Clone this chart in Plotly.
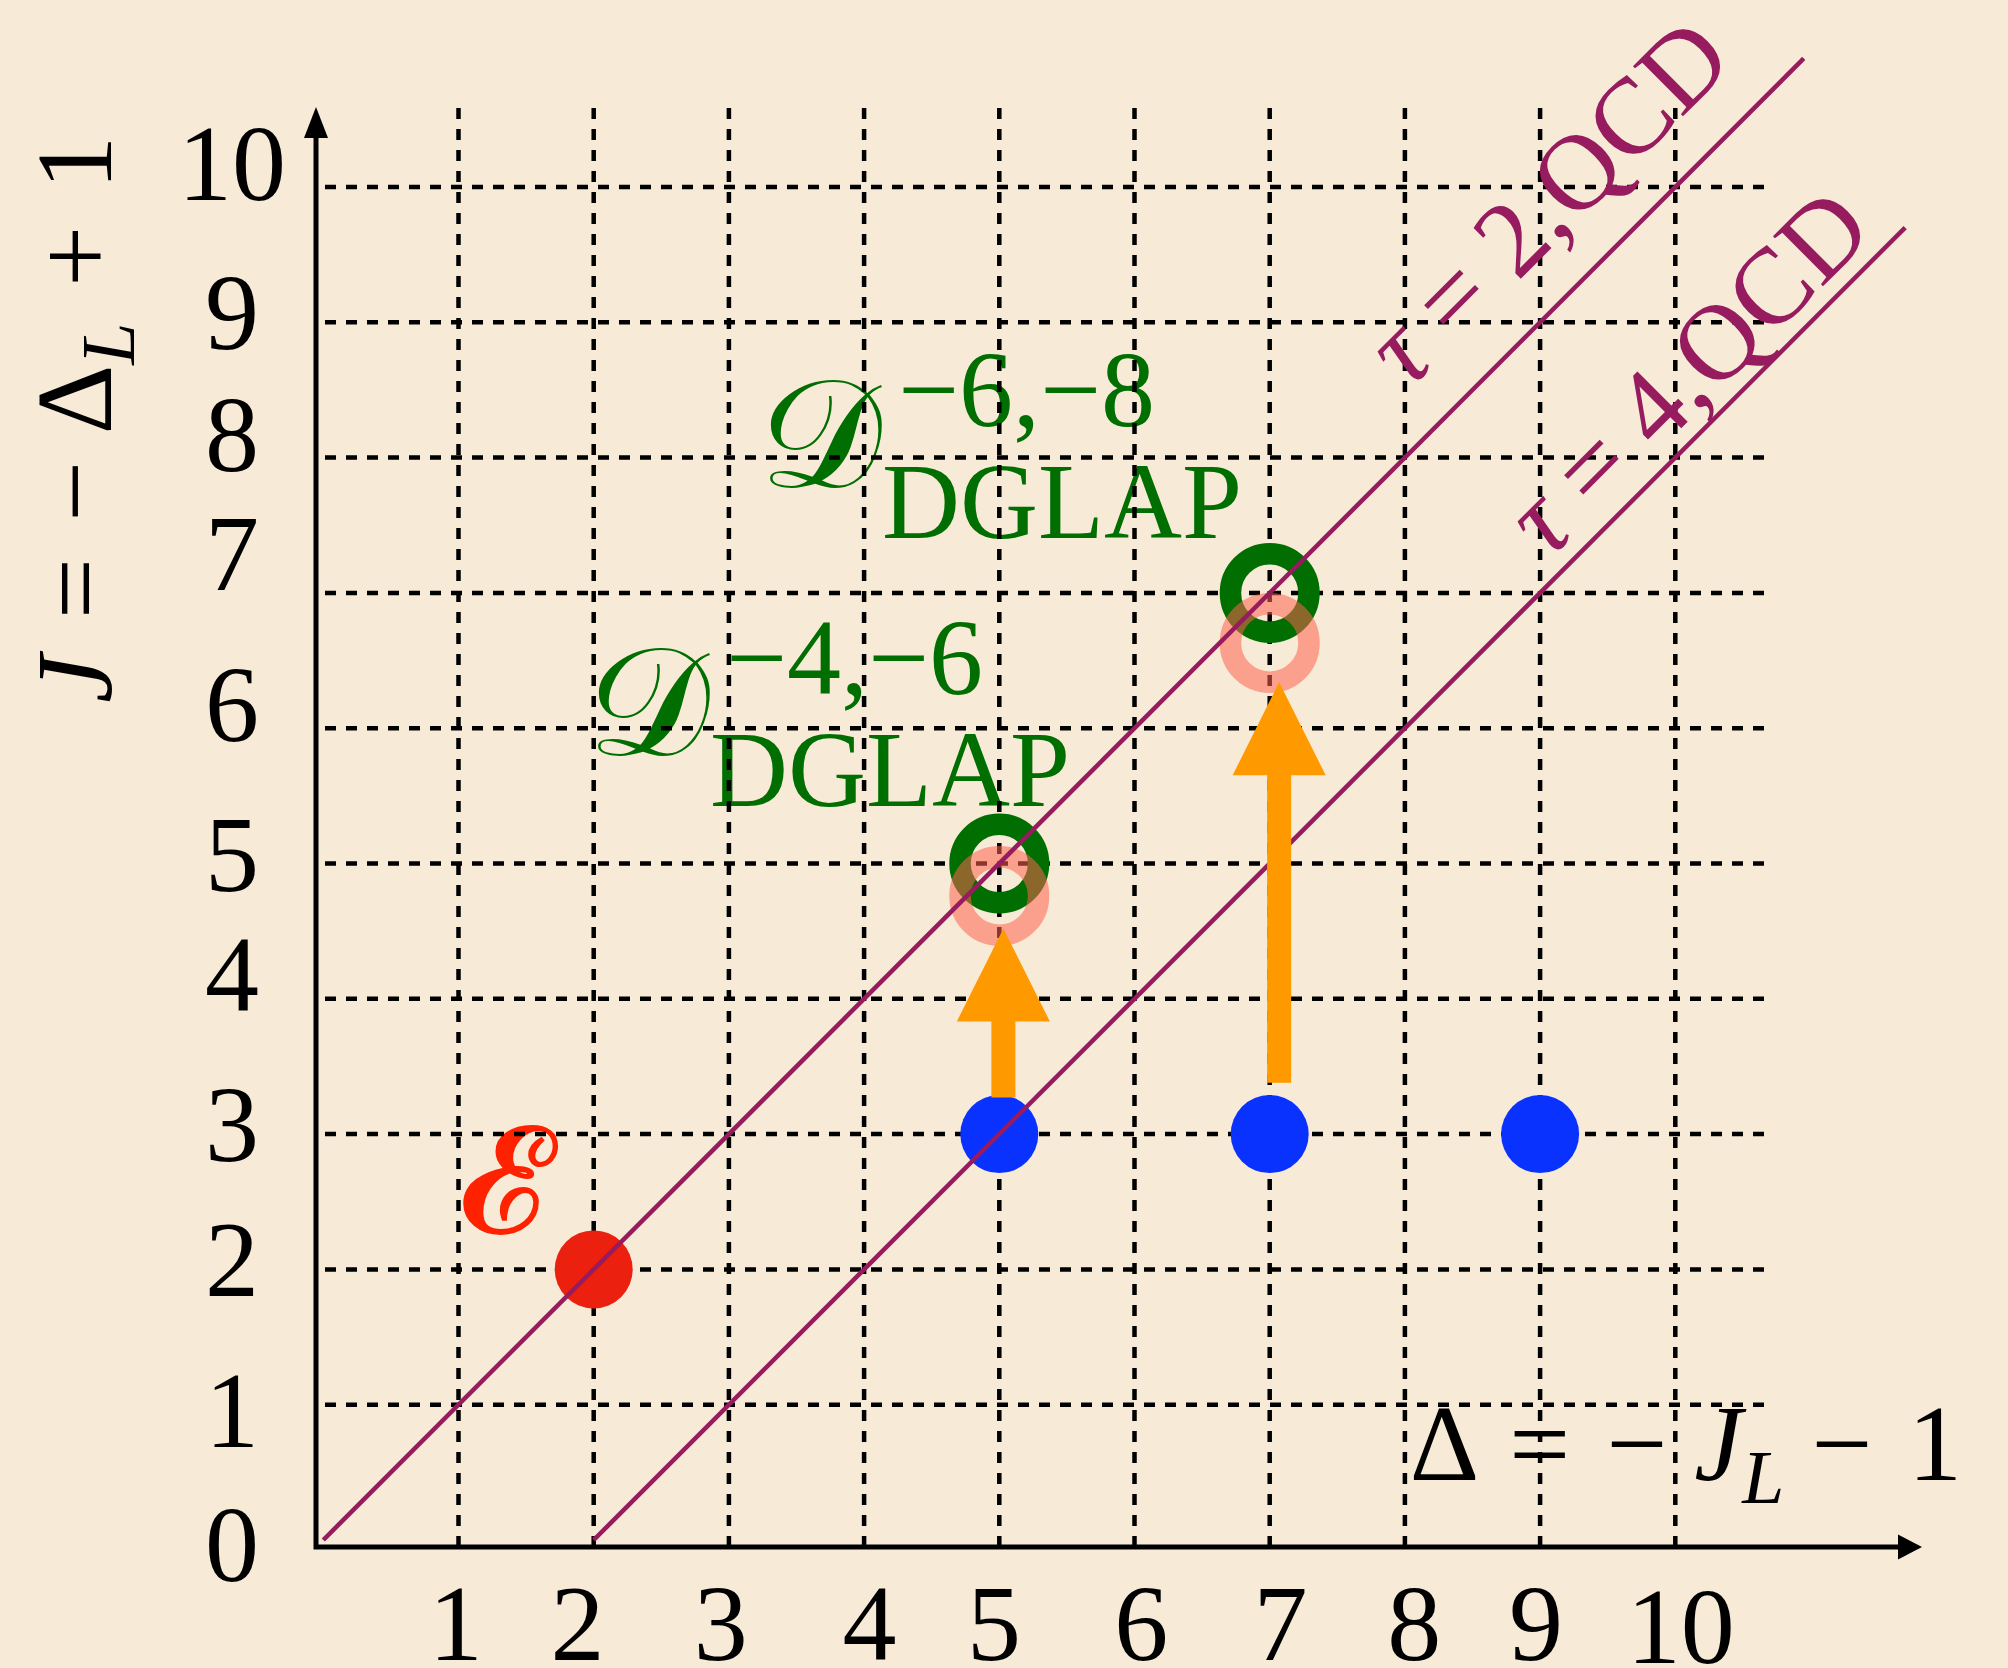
import plotly.graph_objects as go

# ---------------- data ----------------
x_ticks = [1, 2, 3, 4, 5, 6, 7, 8, 9, 10]
x_tick_labels = ["1", "2", "3", "4", "5", "6", "7", "8", "9", "10"]
y_ticks = [0, 1, 2, 3, 4, 5, 6, 7, 8, 9, 10]
y_tick_labels = ["0", "1", "2", "3", "4", "5", "6", "7", "8", "9", "10"]

grid_x = [1, 2, 3, 4, 5, 6, 7, 8, 9, 10]
grid_y = [1, 2, 3, 4, 5, 6, 7, 8, 9, 10]

tau2_x = [0, 10.95]
tau2_y = [0, 10.95]
tau4_x = [2, 11.7]
tau4_y = [0, 9.7]
tau_labels = ["<i>τ</i> = 2,QCD", "<i>τ</i> = 4,QCD"]

e_x = [2]
e_y = [2]
blue_x = [5, 7, 9]
blue_y = [3, 3, 3]
green_x = [5, 7]
green_y = [5, 7]
salmon_x = [5, 7]
salmon_y = [4.76, 6.63]
arrow_x = [5.03, 7.07]
arrow_from = [3.27, 3.38]
arrow_to = [4.52, 6.34]

green_sup = ["−6,−8", "−4,−6"]
green_sub = ["DGLAP", "DGLAP"]

# ---------------- pixel calibration / styles ----------------
W, H = 2008, 1668
PX_X0, PX_Y0, UX, UY = 323.3, 1540.0, 135.2, 135.3


def dx(px):
    return (px - PX_X0) / UX


def dy(py):
    return (PX_Y0 - py) / UY


BG = "#F7EAD7"
PURPLE = "#961B5F"
GREEN = "#006E00"
SALMON = "rgba(253,99,80,0.55)"
RED = "#EC200E"
BLUE = "#0A32FF"
ORANGE = "#FF9900"
SCRIPT_RED = "#FF2200"
FONT = "'Liberation Serif', 'Times New Roman', Times, serif"
SCRIPT_FONT = "'DejaVu Serif', 'DejaVu Sans', serif"
FS = 108
HS = " \u200a"  # a slightly wider gap, as in the reference formulas

fig = go.Figure()


def text_trace(xs, ys, texts, color="black", size=FS, family=FONT):
    fig.add_trace(go.Scatter(
        x=xs, y=ys, text=texts, mode="text", textposition="middle center",
        textfont=dict(family=family, size=size, color=color),
        hoverinfo="skip", showlegend=False, cliponaxis=False))


# --- text that sits below the grid ---
x_nudge = [-0.02, -0.12, -0.06, 0.04, -0.04, 0.05, 0.08, 0.07, -0.03, 0.04]
x_lab_y = [dy(1633)] * 9 + [dy(1636)]
text_trace([v + n for v, n in zip(x_ticks, x_nudge)], x_lab_y, x_tick_labels)

y_nudge = [-0.10, -0.11, 0.0, 0.0, 0.11, 0.0, 0.108, 0.22, 0.10, 0.0, 0.10]
text_trace([dx(232)] * len(y_ticks), [v + n for v, n in zip(y_ticks, y_nudge)], y_tick_labels)

text_trace([dx(1686)], [dy(1453)],
           ["Δ" + HS + "=" + HS + "− <i>J</i><sub><i>L</i></sub> −" + HS + "1"])

# green labels: script D, superscript line, subscript line
text_trace([dx(820), dx(648)], [dy(448), dy(716)], ["𝒟", "𝒟"], color=GREEN, size=154,
           family=SCRIPT_FONT)
text_trace([dx(1026.5), dx(854.5)], [dy(399), dy(667)], green_sup, color=GREEN)
text_trace([dx(1062), dx(890)], [dy(511), dy(779)], green_sub, color=GREEN)

# script E
text_trace([dx(501)], [dy(1194)], ["𝓔"], color=SCRIPT_RED, size=150, family=SCRIPT_FONT)

# --- dashed grid ---
gx0, gx1 = dx(325), dx(1765)
gy0, gy1 = dy(1547), dy(107)
hx, hy = [], []
for v in grid_y:
    hx += [gx0, gx1, None]
    hy += [v, v, None]
vx, vy = [], []
for v in grid_x:
    vx += [v, v, None]
    vy += [gy0, gy1, None]
fig.add_trace(go.Scatter(x=hx + vx, y=hy + vy, mode="lines",
                         line=dict(color="black", width=4.5, dash="11px,10px"),
                         hoverinfo="skip", showlegend=False))

# --- axes with arrow heads ---
AX, AY = dx(316), dy(1547)
y_tip, x_tip = dy(107), dx(1922)
yh_len, yh_w = 31 / UY, 12 / UX
xh_len, xh_w = 24 / UX, 12.5 / UY
fig.add_trace(go.Scatter(x=[AX, AX, x_tip - xh_len], y=[y_tip - yh_len, AY, AY], mode="lines",
                         line=dict(color="black", width=5), hoverinfo="skip", showlegend=False))
fig.add_trace(go.Scatter(x=[AX - yh_w, AX + yh_w, AX, AX - yh_w],
                         y=[y_tip - yh_len, y_tip - yh_len, y_tip, y_tip - yh_len],
                         mode="lines", fill="toself", fillcolor="black", line=dict(width=0),
                         hoverinfo="skip", showlegend=False))
fig.add_trace(go.Scatter(x=[x_tip - xh_len, x_tip - xh_len, x_tip, x_tip - xh_len],
                         y=[AY - xh_w, AY + xh_w, AY, AY - xh_w],
                         mode="lines", fill="toself", fillcolor="black", line=dict(width=0),
                         hoverinfo="skip", showlegend=False))

# --- rings and dots ---
fig.add_trace(go.Scatter(x=green_x, y=green_y, mode="markers",
                         marker=dict(symbol="circle-open", size=78.5, color=GREEN,
                                     line=dict(width=21.5, color=GREEN)),
                         hoverinfo="skip", showlegend=False))
fig.add_trace(go.Scatter(x=salmon_x, y=salmon_y, mode="markers",
                         marker=dict(symbol="circle-open", size=78.5, color=SALMON,
                                     line=dict(width=21.5, color=SALMON)),
                         hoverinfo="skip", showlegend=False))
fig.add_trace(go.Scatter(x=e_x, y=e_y, mode="markers",
                         marker=dict(size=78, color=RED, line=dict(width=0)),
                         hoverinfo="skip", showlegend=False))
fig.add_trace(go.Scatter(x=blue_x, y=blue_y, mode="markers",
                         marker=dict(size=78, color=BLUE, line=dict(width=0)),
                         hoverinfo="skip", showlegend=False))

# --- tau lines ---
for lx, ly in [(tau2_x, tau2_y), (tau4_x, tau4_y)]:
    fig.add_trace(go.Scatter(x=lx, y=ly, mode="lines", line=dict(color=PURPLE, width=4.5),
                             hoverinfo="skip", showlegend=False))

# --- orange arrows ---
head_len = 93 / UY
head_hw = 46.5 / UX
for xa, y0, y1 in zip(arrow_x, arrow_from, arrow_to):
    base = y1 - head_len
    fig.add_trace(go.Scatter(x=[xa, xa], y=[y0, base + 0.02], mode="lines",
                             line=dict(color=ORANGE, width=24),
                             hoverinfo="skip", showlegend=False))
    fig.add_trace(go.Scatter(x=[xa - head_hw, xa + head_hw, xa, xa - head_hw],
                             y=[base, base, y1, base], mode="lines", fill="toself",
                             fillcolor=ORANGE, line=dict(width=0),
                             hoverinfo="skip", showlegend=False))

# --- rotated texts ---
annotations = [
    dict(x=dx(82), y=dy(420), xref="x", yref="y",
         text="<i>J</i>" + HS + "=" + HS + "− Δ<sub><i>L</i></sub>" + HS + "+" + HS + "1",
         textangle=-90, showarrow=False, xanchor="center", yanchor="middle",
         font=dict(family=FONT, size=FS, color="black")),
    dict(x=dx(1546), y=dy(201), xref="x", yref="y", text=tau_labels[0], textangle=-45,
         showarrow=False, xanchor="center", yanchor="middle",
         font=dict(family=FONT, size=FS, color=PURPLE)),
    dict(x=dx(1686), y=dy(371), xref="x", yref="y", text=tau_labels[1], textangle=-45,
         showarrow=False, xanchor="center", yanchor="middle",
         font=dict(family=FONT, size=FS, color=PURPLE)),
]

fig.update_layout(
    width=W, height=H,
    margin=dict(l=0, r=0, t=0, b=0, pad=0),
    paper_bgcolor=BG, plot_bgcolor=BG,
    showlegend=False,
    xaxis=dict(range=[dx(0), dx(W)], visible=False, fixedrange=True),
    yaxis=dict(range=[dy(H), dy(0)], visible=False, fixedrange=True),
    annotations=annotations,
)

fig.write_html("out.html", config={"displayModeBar": False},
               post_script="document.body.style.margin='0';document.body.style.overflow='hidden';")
